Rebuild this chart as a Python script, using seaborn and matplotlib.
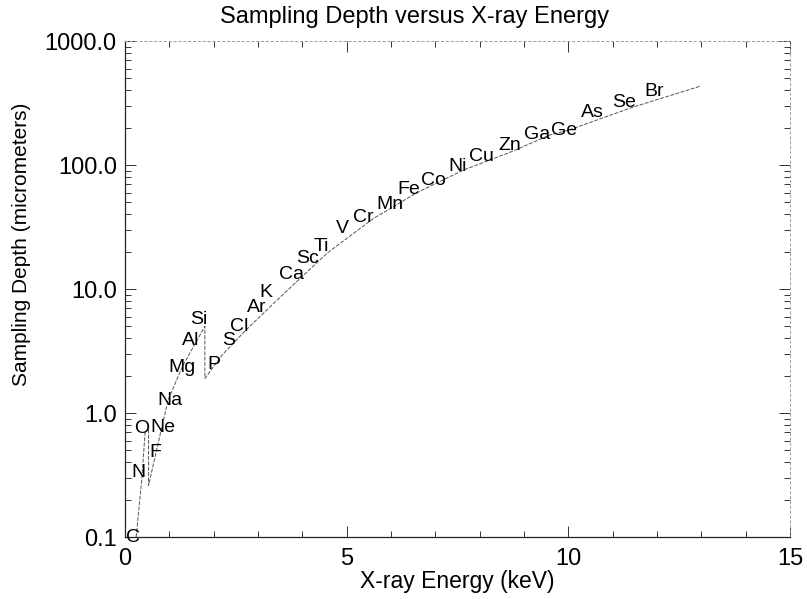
import matplotlib
matplotlib.use("Agg")
import matplotlib.pyplot as plt
import seaborn as sns
from matplotlib.ticker import FixedLocator, MultipleLocator, LogLocator, FormatStrFormatter, NullFormatter

sns.set_style("ticks")
plt.rcParams['font.family'] = ['Liberation Sans', 'DejaVu Sans']
plt.rcParams['text.color'] = 'black'
plt.rcParams['axes.labelcolor'] = 'black'

# curve (keV, micrometers); repeated x = absorption edge jumps
curve_energy = [0.25, 0.38, 0.45, 0.53, 0.53, 0.75, 0.97, 1.30, 1.80, 1.80,
                2.19, 2.71, 3.34, 3.84, 4.56, 5.60, 6.59, 7.63, 8.69, 9.59,
                10.0, 11.47, 12.98]
curve_depth = [0.10, 0.30, 0.69, 0.76, 0.26, 0.58, 1.27, 2.4, 5.0, 1.9,
               2.94, 4.6, 7.6, 11.2, 19.5, 37, 60, 91, 127, 175,
               191, 294, 433]

# element labels
elements = ["C", "N", "O", "F", "Ne", "Na", "Mg", "Al", "Si", "P",
            "S", "Cl", "Ar", "K", "Ca", "Sc", "Ti", "V", "Cr", "Mn",
            "Fe", "Co", "Ni", "Cu", "Zn", "Ga", "Ge", "As", "Se", "Br"]
label_energy = [0.18, 0.29, 0.38, 0.68, 0.86, 1.02, 1.29, 1.47, 1.67, 2.01,
                2.33, 2.57, 2.96, 3.18, 3.75, 4.11, 4.42, 4.90, 5.37, 5.98,
                6.41, 6.95, 7.49, 8.04, 8.67, 9.30, 9.91, 10.54, 11.26, 11.94]
label_depth = [0.100, 0.334, 0.757, 0.484, 0.771, 1.25, 2.35, 3.81, 5.73, 2.48,
               3.81, 4.94, 7.16, 9.46, 13.0, 17.5, 22.2, 31.0, 37.4, 47.6,
               62.9, 75.7, 98, 118, 145, 175, 191, 263, 322, 395]

y_ticks = [0.1, 1.0, 10.0, 100.0, 1000.0]
x_ticks = [0, 5, 10, 15]

fig = plt.figure(figsize=(8.07, 5.99), dpi=100)
ax = fig.add_axes([0.155, 0.1035, 0.824, 0.828])

sns.lineplot(x=curve_energy, y=curve_depth, sort=False, estimator=None,
             ax=ax, color="#555555", linewidth=0.7, dashes=False)
ax.lines[0].set_linestyle((0, (4, 1.5)))

for name, e, d in zip(elements, label_energy, label_depth):
    ax.text(e, d, name, fontsize=14, ha="center", va="center", color="black")

ax.set_yscale("log")
ax.set_xlim(0, 15)
ax.set_ylim(0.1, 1000)
ax.yaxis.set_major_locator(FixedLocator(y_ticks))
ax.yaxis.set_major_formatter(FormatStrFormatter("%.1f"))
ax.yaxis.set_minor_locator(LogLocator(base=10, subs=range(2, 10)))
ax.yaxis.set_minor_formatter(NullFormatter())
ax.xaxis.set_major_locator(FixedLocator(x_ticks))
ax.xaxis.set_minor_locator(MultipleLocator(1))

ax.tick_params(which="both", direction="in", top=True, right=True,
               width=0.7, colors="#333333", labelcolor="black")
ax.tick_params(which="major", length=8, labelsize=17)
ax.tick_params(axis="y", which="major", pad=6)
ax.tick_params(axis="x", which="major", pad=8)
ax.tick_params(which="minor", length=4)

for side in ["left", "bottom"]:
    ax.spines[side].set_linewidth(0.9)
    ax.spines[side].set_color("#222222")
for side in ["top", "right"]:
    ax.spines[side].set_linewidth(0.7)
    ax.spines[side].set_color("#999999")
    ax.spines[side].set_linestyle((0, (2, 3)))

fig.text(0.514, 0.972, "Sampling Depth versus X-ray Energy", fontsize=17,
         ha="center", va="center")
ax.set_xlabel("X-ray Energy (keV)", fontsize=16.5, labelpad=0)
ax.set_ylabel("Sampling Depth (micrometers)", fontsize=15)
ax.yaxis.set_label_coords(-0.141, 0.59)

fig.savefig("out.png", dpi=100)
